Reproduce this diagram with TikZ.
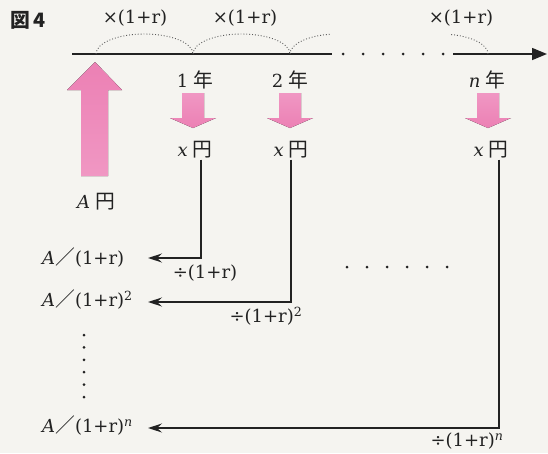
\documentclass[tikz,border=0pt]{standalone}
\usepackage{fontspec}
\setmainfont{DejaVu Serif}
\newfontfamily\jpfont[Scale=1.1]{Noto Sans CJK JP}
\usetikzlibrary{arrows.meta, positioning, calc}
\definecolor{paper}{HTML}{F5F4F0}
\definecolor{pinkA}{HTML}{EC80B4}
\definecolor{pinkB}{HTML}{F097C3}
\definecolor{ink}{HTML}{222222}
\newcommand{\jnen}{\hspace{5pt}{\jpfont 年}}
\newcommand{\jyen}{\hspace{5pt}{\jpfont 円}}
\newcommand{\jsl}{{\jpfont ／}}

\begin{document}
\begin{tikzpicture}[x=1pt, y=-1pt,
    lbl/.style={font=\fontsize{18}{21}\selectfont, inner sep=1pt, text=ink},
    conn/.style={-{Stealth[length=14pt,width=9pt,inset=5pt]}, ink, line width=1.3pt},
    timeline/.style={ink, line width=1.5pt},
    hop/.style={gray!70!black, dotted, line width=0.9pt},
    bigup/.style={top color=pinkA, bottom color=pinkB, draw=none},
    smalldown/.style={top color=pinkB, bottom color=pinkA, draw=none}
]
    \fill[paper] (0,0) rectangle (548,453);

    % time axis
    \coordinate (tstart) at (72,54);
    \coordinate (t0) at (96,54);
    \coordinate (t1) at (193,54);
    \coordinate (t2) at (290,54);
    \coordinate (tn) at (488,54);
    \coordinate (gapL) at (332,54);
    \coordinate (gapR) at (453,54);
    \coordinate (tend) at (547,54);
    \draw[timeline] (tstart) -- (gapL);
    \draw[timeline, -{Triangle[length=15pt,width=12pt]}] (gapR) -- (tend);
    \foreach \i in {0,...,5} {
        \fill[ink] (343+20*\i,54) circle (1.5pt);
    }

    % compounding hops
    \draw[hop] (t0) arc[start angle=180, end angle=360, x radius=48.5, y radius=20];
    \draw[hop] (t1) arc[start angle=180, end angle=360, x radius=48.5, y radius=20];
    \draw[hop] (t2) arc[start angle=180, end angle=262, x radius=48, y radius=20];
    \draw[hop] (tn) arc[start angle=360, end angle=282, x radius=48, y radius=20];

    \node[font=\fontsize{18}{22}\selectfont\jpfont\bfseries, text=ink] (fig) at (28,20) {図\,4};
    \node[lbl] (m1) at (135,18) {×(1+r)};
    \node[lbl] (m2) at (245,18) {×(1+r)};
    \node[lbl] (mn) at (461,18) {×(1+r)};

    \node[lbl] (y1) at (195,80) {1\jnen};
    \node[lbl] (y2) at (290,80) {2\jnen};
    \node[lbl] (yn) at (487,80) {\textit{n}\jnen};

    % pink arrows
    \fill[bigup] (95,62) -- (122,90) -- (108,90) -- (108,176) -- (81,176) -- (81,90) -- (67,90) -- cycle;
    \foreach \c in {193,290,488} {
        \fill[smalldown] (\c-11,93) -- (\c+11,93) -- (\c+11,118) -- (\c+23,118) -- (\c,128)
            -- (\c-23,118) -- (\c-11,118) -- cycle;
    }

    \node[lbl] (x1) at (195,150) {\textit{x}\jyen};
    \node[lbl] (x2) at (291,150) {\textit{x}\jyen};
    \node[lbl] (xn) at (491,150) {\textit{x}\jyen};
    \node[lbl] (A) at (96,202) {\textit{A}\jyen};

    \node[lbl, anchor=west] (a1) at (41,258) {\textit{A}\jsl(1+r)};
    \node[lbl, anchor=west] (a2) at (41,300) {\textit{A}\jsl(1+r)\textsuperscript{2}};
    \node[lbl, anchor=west] (an) at (41,426) {\textit{A}\jsl(1+r)\textsuperscript{\itshape n}};

    \node[lbl] (d1) at (205,273) {÷(1+r)};
    \node[lbl] (d2) at (266,316) {÷(1+r)\textsuperscript{2}};
    \node[lbl] (dn) at (467,441) {÷(1+r)\textsuperscript{\itshape n}};

    % discounting back
    \coordinate (tipx) at (148,0);
    \draw[conn] ([xshift=6pt]x1.south) |- (a1 -| tipx);
    \draw[conn] ([xshift=0pt]x2.south) |- ([yshift=-2pt]a2.center -| tipx);
    \draw[conn] ([xshift=8pt]xn.south) |- ([yshift=-2pt]an.center -| tipx);

    \foreach \i in {0,...,5} {
        \fill[ink] (347+20*\i,267) circle (1.5pt);
        \fill[ink] (84,335+12.4*\i) circle (1.5pt);
    }
\end{tikzpicture}
\end{document}
